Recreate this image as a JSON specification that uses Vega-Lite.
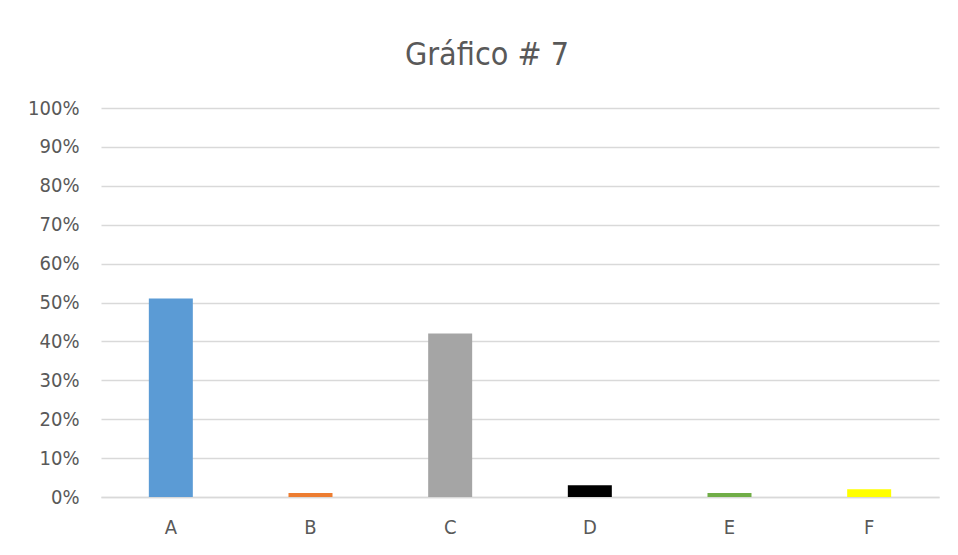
{
  "$schema": "https://vega.github.io/schema/vega-lite/v6.json",
  "autosize": "none",
  "width": 838,
  "height": 389,
  "padding": {"left": 101, "top": 108, "right": 19, "bottom": 58},
  "background": "white",
  "title": {
    "text": "Gráfico # 7",
    "font": "DejaVu Sans Condensed, Liberation Sans, sans-serif",
    "fontSize": 32,
    "fontWeight": "normal",
    "color": "#595959",
    "anchor": "middle",
    "dx": -33,
    "offset": 26
  },
  "data": {
    "values": [
      {"categoria": "A", "valor": 0.51, "color": "#5B9BD5"},
      {"categoria": "B", "valor": 0.01, "color": "#ED7D31"},
      {"categoria": "C", "valor": 0.42, "color": "#A5A5A5"},
      {"categoria": "D", "valor": 0.03, "color": "#000000"},
      {"categoria": "E", "valor": 0.01, "color": "#70AD47"},
      {"categoria": "F", "valor": 0.02, "color": "#FFFF00"}
    ]
  },
  "mark": {"type": "bar"},
  "encoding": {
    "x": {
      "field": "categoria",
      "type": "nominal",
      "sort": null,
      "scale": {"paddingInner": 0.685, "paddingOuter": 0.3425},
      "axis": {
        "title": null,
        "labelAngle": 0,
        "labelFont": "DejaVu Sans Condensed, Liberation Sans, sans-serif",
        "labelFontSize": 20,
        "labelColor": "#595959",
        "labelPadding": 20,
        "ticks": false,
        "domainColor": "#D9D9D9",
        "domainWidth": 1.5,
        "grid": false
      }
    },
    "y": {
      "field": "valor",
      "type": "quantitative",
      "scale": {"domain": [0, 1], "nice": false},
      "axis": {
        "title": null,
        "format": ".0%",
        "values": [0, 0.1, 0.2, 0.3, 0.4, 0.5, 0.6, 0.7, 0.8, 0.9, 1],
        "labelFont": "DejaVu Sans Condensed, Liberation Sans, sans-serif",
        "labelFontSize": 20,
        "labelColor": "#595959",
        "labelPadding": 22,
        "ticks": false,
        "domain": false,
        "grid": true,
        "gridColor": "#D9D9D9",
        "gridWidth": 1.5
      }
    },
    "color": {"field": "color", "type": "nominal", "scale": null, "legend": null}
  },
  "config": {"view": {"stroke": null}}
}
